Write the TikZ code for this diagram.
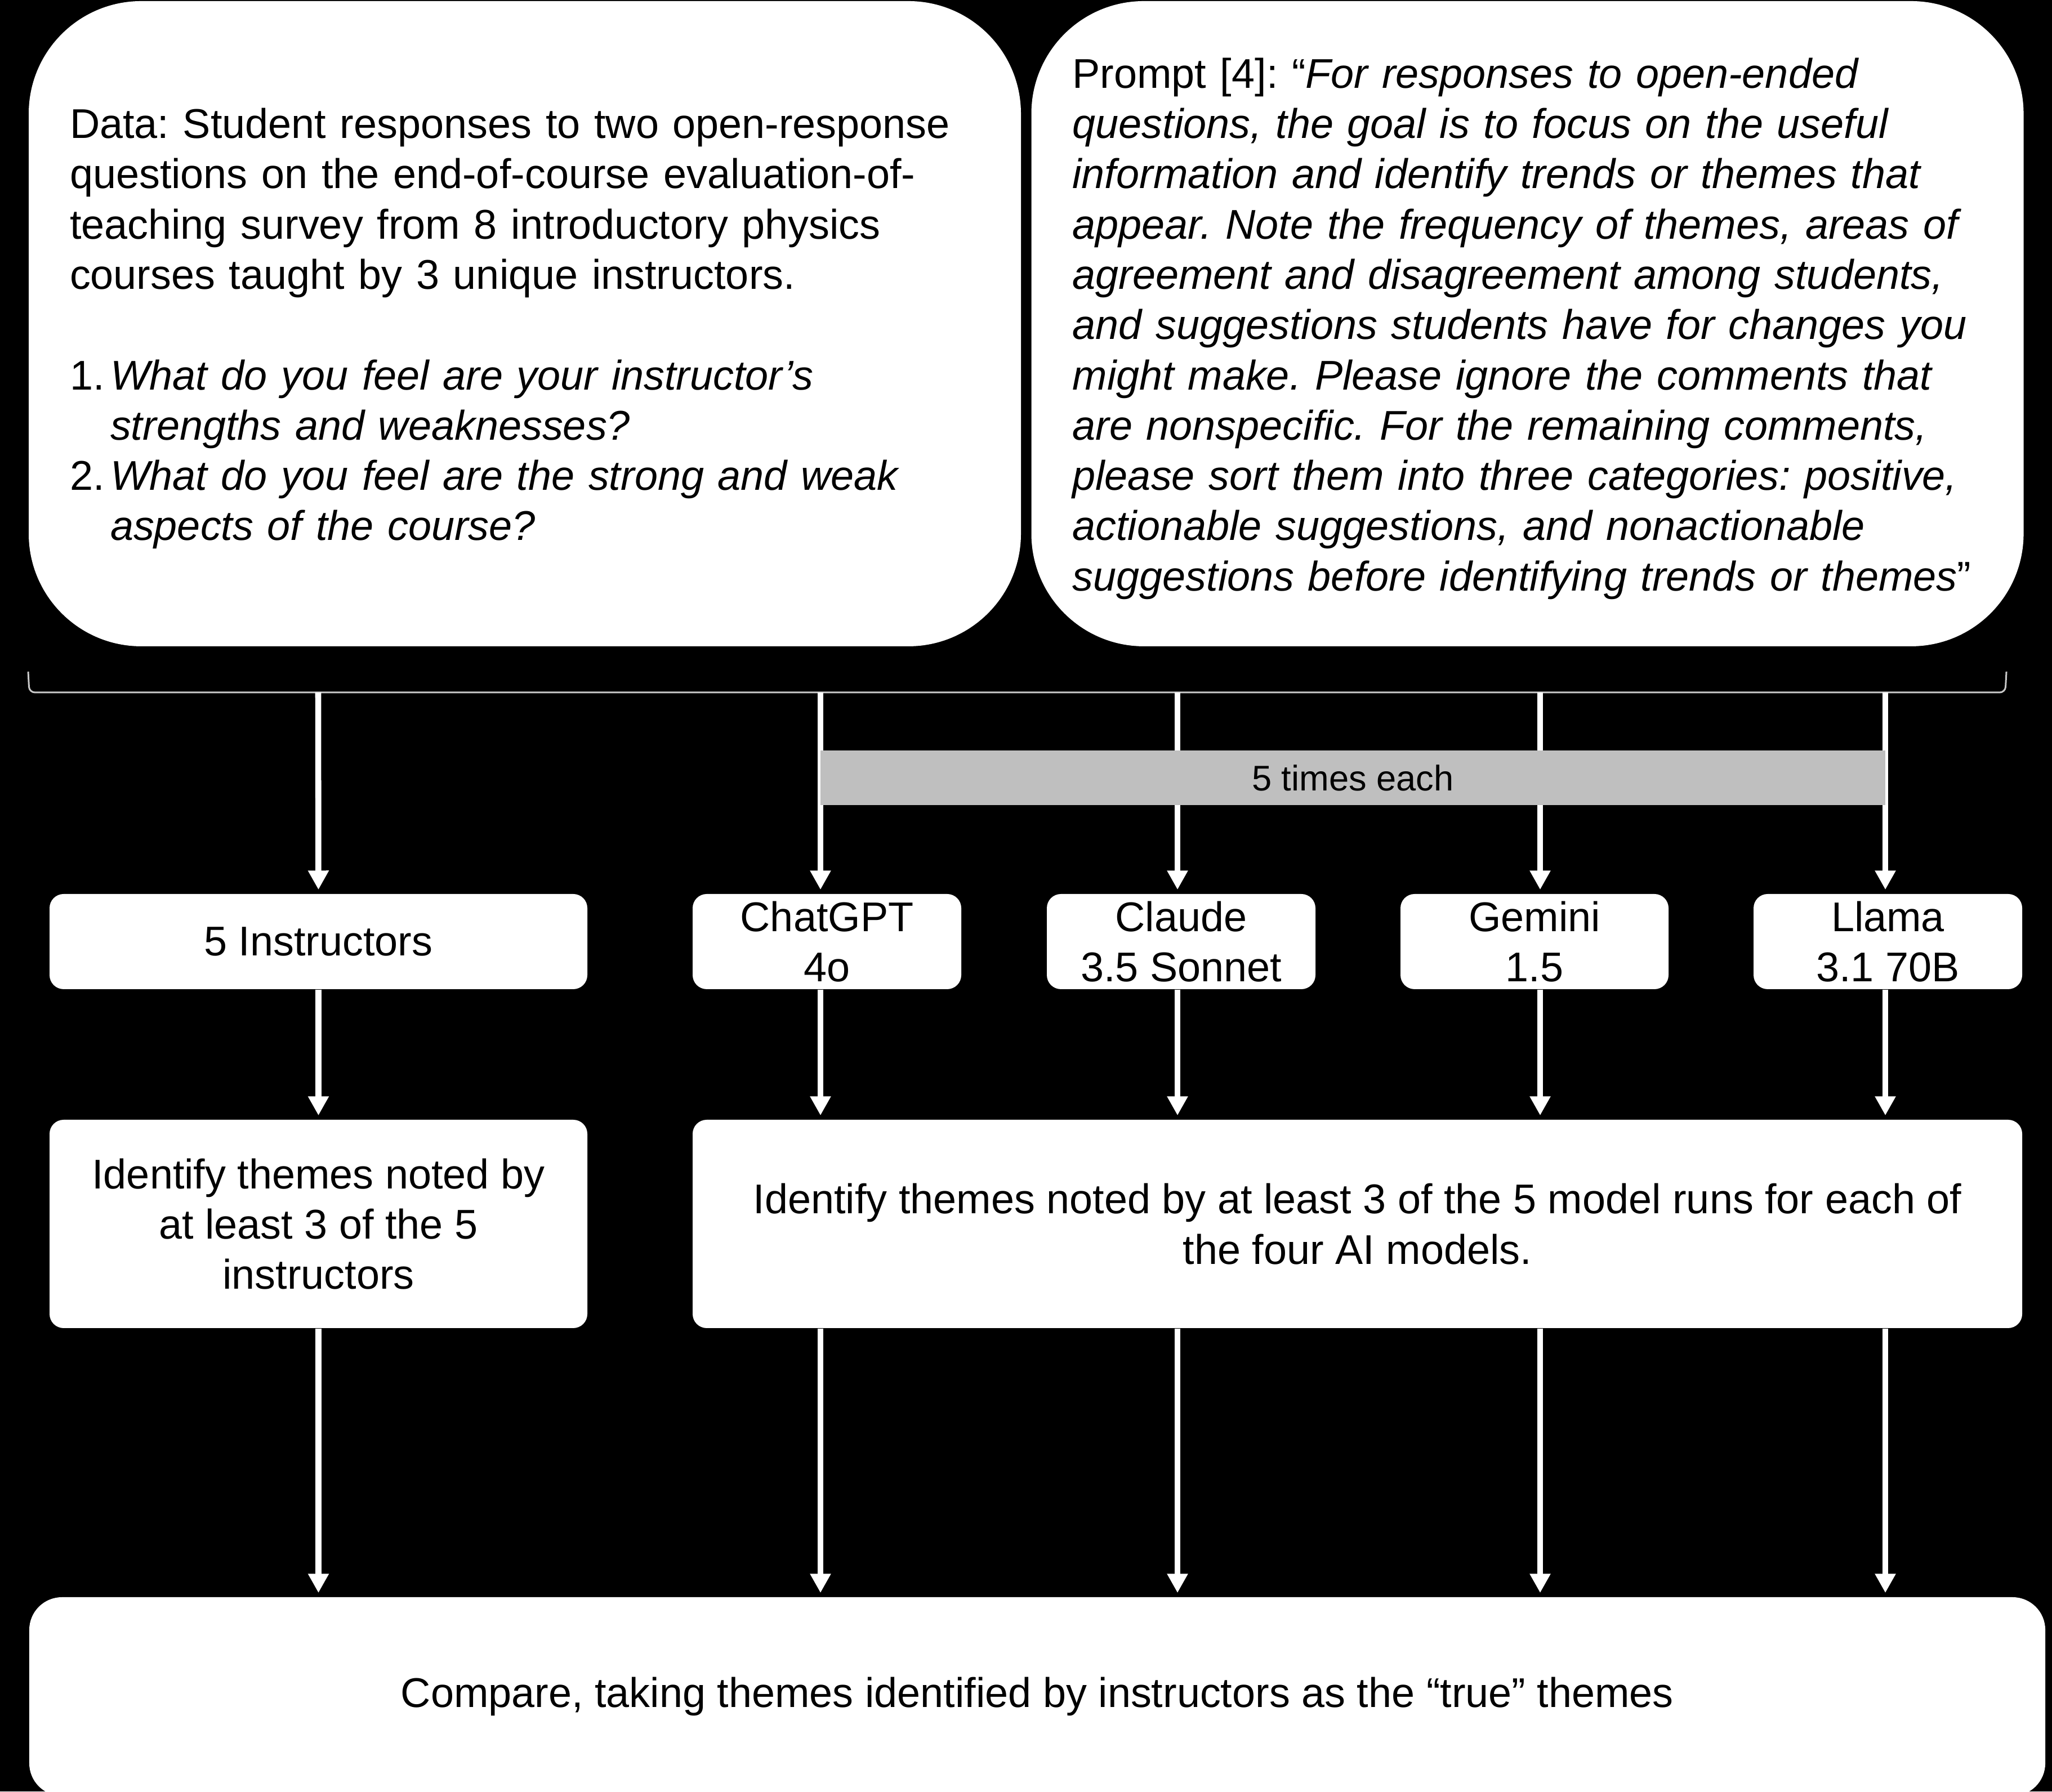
\documentclass[tikz,border=0pt]{standalone}
\usepackage{fontspec}
\setmainfont{Liberation Sans}
\usepackage{xcolor}
\usetikzlibrary{positioning,calc,arrows.meta}
\definecolor{bargray}{RGB}{191,191,191}
\definecolor{bracketgray}{RGB}{200,200,200}
\frenchspacing

\begin{document}
\begin{tikzpicture}[x=1cm, y=1cm, >=latex,
    panel/.style={fill=white, rounded corners=2cm, align=left, inner xsep=0.73cm,
        text width=16.16cm, minimum height=11.46cm, font=\fontsize{21}{25.4}\selectfont},
    box/.style={fill=white, rounded corners=0.25cm, align=center, inner sep=0pt,
        font=\fontsize{21}{25.4}\selectfont},
    arr/.style={draw=white, line width=3pt, -{Triangle[length=3.4mm,width=3.5mm]}, shorten >=0.07cm}]
    % Background
    \useasboundingbox (0,0) rectangle (36.44,31.82);
    \fill[black] (0,0) rectangle (36.44,31.82);
    \clip (0,0) rectangle (36.44,31.82);

    % Data
    \node[panel] (data) at (9.32,26.07) {\rule{0pt}{0.71cm}Data: Student responses to two open-response\\
        questions on the end-of-course evaluation-of-\\
        teaching survey from 8 introductory physics\\
        courses taught by 3 unique instructors.\\[25.4pt]
        \makebox[0.72cm][l]{1.}\textit{What do you feel are your instructor’s}\\
        \hspace*{0.72cm}\textit{strengths and weaknesses?}\\
        \makebox[0.72cm][l]{2.}\textit{What do you feel are the strong and weak}\\
        \hspace*{0.72cm}\textit{aspects of the course?}};

    % Prompt
    \node[panel] (prompt) at (27.125,26.07) {\rule{0pt}{0.71cm}Prompt [4]: “\itshape For responses to open-ended\\
        questions, the goal is to focus on the useful\\
        information and identify trends or themes that\\
        appear. Note the frequency of themes, areas of\\
        agreement and disagreement among students,\\
        and suggestions students have for changes you\\
        might make. Please ignore the comments that\\
        are nonspecific. For the remaining comments,\\
        please sort them into three categories: positive,\\
        actionable suggestions, and nonactionable\\
        suggestions before identifying trends or themes\upshape”};

    % Bracket
    \draw[bracketgray, line width=0.85pt, rounded corners=0.1cm]
        (0.50,19.89) -- (0.52,19.52) -- (35.61,19.52) -- (35.63,19.89);
    \coordinate (b0) at (5.65,19.52);
    \coordinate (b1) at (14.57,19.52);
    \coordinate (b2) at (20.91,19.52);
    \coordinate (b3) at (27.35,19.52);
    \coordinate (b4) at (33.48,19.52);

    % Instructors and models
    \node[box, minimum width=9.55cm, minimum height=1.69cm] (instr) at (5.655,15.095) {5 Instructors};
    \node[box, minimum width=4.77cm, minimum height=1.69cm] (chatgpt) at (14.685,15.095) {ChatGPT\\4o};
    \node[box, minimum width=4.77cm, minimum height=1.69cm] (claude) at (20.975,15.095) {Claude\\3.5 Sonnet};
    \node[box, minimum width=4.76cm, minimum height=1.69cm] (gemini) at (27.25,15.095) {Gemini\\1.5};
    \node[box, minimum width=4.77cm, minimum height=1.69cm] (llama) at (33.525,15.095) {Llama\\3.1 70B};

    % Themes
    \node[box, minimum width=9.55cm, minimum height=3.70cm] (themes) at (5.655,10.08)
        {Identify themes noted by\\at least 3 of the 5\\instructors};
    \node[box, minimum width=23.61cm, minimum height=3.70cm] (runs) at (24.105,10.08)
        {Identify themes noted by at least 3 of the 5 model runs for each of\\the four AI models.};

    % Compare
    \node[box, rounded corners=0.58cm, minimum width=35.80cm, minimum height=3.53cm] (compare) at (18.42,1.685)
        {Compare, taking themes identified by instructors as the “true” themes};

    % Arrows
    \draw[arr] (b0) -- (instr.north);
    \draw[arr] (instr.south) -- (themes.north);
    \draw[arr] (themes.south) -- (compare.north -| themes.south);
    \foreach \b/\m in {b1/chatgpt, b2/claude, b3/gemini, b4/llama} {
        \draw[arr] (\b) -- (\b |- \m.north);
        \draw[arr] (\b |- \m.south) -- (\b |- runs.north);
        \draw[arr] (\b |- runs.south) -- (\b |- compare.north);
    }

    % 5 times each
    \node[fill=bargray, minimum width=18.91cm, minimum height=0.97cm, inner sep=0pt,
        font=\fontsize{18}{21}\selectfont] (times) at (24.025,18.005) {5 times each};
\end{tikzpicture}
\end{document}
